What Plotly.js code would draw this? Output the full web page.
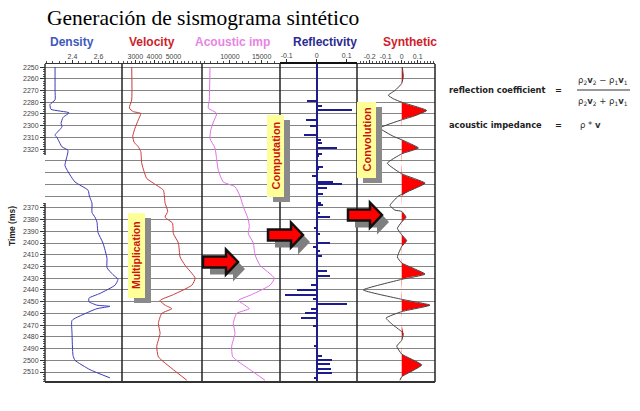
<!DOCTYPE html>
<html><head><meta charset="utf-8">
<script src="https://cdn.plot.ly/plotly-3.0.1.min.js"></script>
<style>html,body{margin:0;padding:0;background:#fff}#chart{width:640px;height:411px}</style>
</head><body><div id="chart"></div>
<script>
// ---- data ----
const densityTime = [2250,2270,2278,2282,2286,2289,2293,2298,2301,2308,2310,2318,2321,2334,2342,2348,2355,2360,2366,2374,2378,2382,2391,2400,2413,2421,2427,2431,2436,2443,2447,2450,2453,2454,2456,2461,2466,2477,2496,2500,2508,2515];
const densityVal  = [2.267,2.267,2.267,2.228,2.236,2.374,2.328,2.313,2.320,2.267,2.282,2.320,2.366,2.343,2.382,2.420,2.520,2.530,2.550,2.550,2.573,2.588,2.596,2.634,2.665,2.665,2.711,2.749,2.726,2.611,2.527,2.527,2.588,2.688,2.588,2.481,2.397,2.397,2.405,2.420,2.535,2.688];

const velocityTime = [2250,2278,2285,2288,2289.5,2295,2302,2309,2314,2318,2322,2332,2339,2345,2349,2355,2366,2373,2378,2383,2392,2400,2412,2419,2430,2436,2444,2449,2453,2456,2460,2468.5,2477,2488,2497,2508,2517];
const velocityVal  = [2810,2810,2684,2894,3284,3157,2984,2863,2931,3157,3284,3336,3457,3599,3946,4472,4562,4700,4560,4950,4998,5261,5351,5614,6140,5966,4998,4299,4562,4914,4388,4209,4299,4125,4209,4998,5703];

const impedanceTime = [2250,2278,2285,2289.5,2297,2304,2311,2319,2329,2338,2348,2352,2360,2369,2380,2386,2392,2400,2410,2419,2430,2436,2444,2449,2453,2456,2460,2468.5,2477,2488,2497,2508,2517];
const impedanceVal  = [6862,6751,6594,7918,7382,6972,6862,7650,7918,8170,8959,10804,11593,12113,12902,13059,12902,13690,13958,14747,17002,16324,13438,11325,12381,13059,11072,10536,10804,10284,10441,13170,15535];

const reflTime = [2279,2283,2287,2295,2300,2308,2312,2315,2319,2324,2326,2335,2337,2343,2348,2350,2353,2358,2366,2368,2374,2378,2387,2392,2400,2403,2407,2411,2424,2428,2436,2440,2444,2448,2452,2456,2460,2464,2471,2488,2496,2500,2503,2507,2511,2515];
const reflVal  = [-0.033,0.017,0.117,-0.036,-0.022,-0.044,0.013,0.017,0.069,0.017,0.009,0.020,0.009,-0.017,0.053,0.083,0.033,0.022,0.013,0.022,0.011,0.044,-0.009,0.011,0.044,-0.014,0.011,0.016,0.033,0.044,-0.020,-0.064,-0.107,-0.014,0.102,-0.018,-0.040,-0.051,-0.014,-0.009,0.019,0.052,0.044,0.047,0.052,-0.009];

const synthTime = [2250,2252.5,2258,2264,2270,2274,2277,2280,2287,2292,2295,2302,2309,2312,2319,2324,2332,2341,2349,2356,2360,2368,2372,2373,2378,2382,2387.5,2393,2398,2403,2412,2417,2426.5,2431,2440,2448,2453,2458.5,2464,2470,2477,2483,2488,2494.7,2504,2514,2517];
const synthVal  = [0.004,0.006,0.010,0,-0.042,-0.084,-0.053,0,0.156,0.073,0,-0.136,-0.053,0,0.104,0,-0.090,0,0.146,0.041,-0.021,-0.073,-0.042,0,0.027,0,-0.027,0,0.031,0,-0.027,0,0.146,0,-0.240,0,0.177,0,-0.098,-0.053,0.010,0,-0.031,0,0.125,0,-0.011];

const gridTimes  = [2250,2260,2270,2280,2290,2300,2310,2320,2330,2340,2350,2360,2370,2380,2390,2400,2410,2420,2430,2440,2450,2460,2470,2480,2490,2500,2510];
const labelTimes = [2250,2260,2270,2280,2290,2300,2310,2320,2370,2380,2390,2400,2410,2420,2430,2440,2450,2460,2470,2480,2490,2500,2510];
const panelTitles = ['Density','Velocity','Acoustic imp','Reflectivity','Synthetic'];

// ---- helpers (pixel -> paper) ----
const L=45, R=435, T=64, B=382;
const px = x => (x-L)/(R-L);
const py = y => (B-y)/(B-T);
const P = (x,y,xa) => ({x:px(x), y:py(y), xref:'paper', yref:'paper', xanchor:xa||'center', yanchor:'middle', showarrow:false});

const tRange = [2518.5, 2247.4];
const tickFont = {family:'Liberation Sans, Arial, sans-serif', size:7, color:'#444'};

const traces = [
  {x:densityVal, y:densityTime, xaxis:'x', yaxis:'y2', mode:'none', hoverinfo:'skip'},
  {x:densityVal, y:densityTime, xaxis:'x', yaxis:'y', mode:'lines', line:{color:'#3b3bbb', width:1, shape:'spline', smoothing:0.5}, hoverinfo:'skip'},
  {x:velocityVal, y:velocityTime, xaxis:'x2', yaxis:'y', mode:'lines', line:{color:'#cc3a3a', width:1, shape:'spline', smoothing:0.5}, hoverinfo:'skip'},
  {x:impedanceVal, y:impedanceTime, xaxis:'x3', yaxis:'y', mode:'lines', line:{color:'#e070e6', width:1, shape:'spline', smoothing:0.5}, hoverinfo:'skip'},
  {type:'bar', orientation:'h', x:reflVal, y:reflTime, xaxis:'x4', yaxis:'y', width:1.7, marker:{color:'#1c1c8c', line:{width:0}}, hoverinfo:'skip'},
  {x:synthVal.map(v=>Math.max(v,0)), y:synthTime, xaxis:'x5', yaxis:'y', mode:'lines', fill:'tozerox', fillcolor:'#ff0000', line:{color:'rgba(0,0,0,0)', width:0, shape:'spline', smoothing:0.4}, hoverinfo:'skip'},
  {x:synthVal, y:synthTime, xaxis:'x5', yaxis:'y', mode:'lines', line:{color:'#444', width:1, shape:'spline', smoothing:0.4}, hoverinfo:'skip'}
];

function topAxis(dom, range, vals, texts, minorDt, extra){
  return Object.assign({domain:dom, range:range, side:'top', anchor:'y', tickmode:'array', tickvals:vals, ticktext:texts,
    ticks:'outside', ticklen:3, tickcolor:'#333', showline:true, linecolor:'#333', linewidth:1, showgrid:false, zeroline:false,
    tickfont:tickFont, tickangle:0, fixedrange:true, ticklabelstandoff:-2,
    minor: minorDt ? {ticks:'outside', dtick:minorDt, ticklen:2, tickcolor:'#555', showgrid:false} : undefined}, extra||{});
}
const d1=px(122), d2=px(202), d3=px(280), d4=px(357);

const minorY = [];
for (let t=2250; t<=2518; t+=2){ if (t<=2324 || t>=2366) minorY.push(t); }

const layout = {
  width:640, height:411, margin:{l:L, r:640-R, t:T, b:411-B}, paper_bgcolor:'#fff', plot_bgcolor:'#fff',
  showlegend:false, bargap:0,
  xaxis: topAxis([0,d1],[2.19,2.78],[2.4,2.6],['2.4','2.6'],0.05),
  xaxis2: topAxis([d1,d2],[2300,6500],[3000,4000,5000],['3000','4000','5000'],200),
  xaxis3: topAxis([d2,d3],[5600,17900],[10000,15000],['10000','15000'],1000),
  xaxis4: topAxis([d3,d4],[-0.1223,0.1343],[-0.1,0,0.1],['-0.1','0','0.1'],null,{zeroline:true, zerolinecolor:'#1c1c8c', zerolinewidth:2, linewidth:2, linecolor:'#111'}),
  xaxis5: topAxis([d4,1],[-0.2794,0.2081],[-0.2,-0.1,0,0.1],['-0.2','-0.1','0','0.1'],0.02),
  yaxis: {domain:[0,1], range:tRange, tickmode:'array', tickvals:gridTimes, showticklabels:false, ticks:'', showgrid:true, gridcolor:'#858585', gridwidth:1, zeroline:false, showline:false, fixedrange:true},
  yaxis2: {overlaying:'y', anchor:'free', position:0, side:'left', range:tRange, tickmode:'array', tickvals:labelTimes, ticktext:labelTimes.map(String),
    ticks:'outside', ticklen:5, tickcolor:'#333', tickfont:tickFont, showgrid:false, zeroline:false, showline:false, fixedrange:true,
    minor:{tickmode:'array', tickvals:minorY, ticks:'outside', ticklen:2, tickcolor:'#555', showgrid:false}},
  shapes: [], annotations: []
};

// frame and dividers
[d1,d2,d3,d4,1].forEach(x=>layout.shapes.push({type:'line', xref:'paper', yref:'paper', x0:x, x1:x, y0:0, y1:1, line:{color:'#222', width:1.5}}));
layout.shapes.push({type:'line', xref:'paper', yref:'paper', x0:0, x1:1, y0:0, y1:0, line:{color:'#333', width:2}});
layout.shapes.push({type:'line', xref:'paper', yref:'y', x0:0, x1:0, y0:2247.4, y1:2325, line:{color:'#333', width:1.5}});
layout.shapes.push({type:'line', xref:'paper', yref:'y', x0:0, x1:0, y0:2366, y1:2518.5, line:{color:'#333', width:1.5}});

// yellow labelled boxes with shadow
function box(x0,y0,x1,y1,label,size){
  layout.shapes.push({type:'rect', layer:'above', xref:'paper', yref:'paper', x0:px(x0+6), x1:px(x1+6), y0:py(y0+5), y1:py(y1+5), fillcolor:'#8a8a8a', line:{width:0}});
  layout.shapes.push({type:'rect', layer:'above', xref:'paper', yref:'paper', x0:px(x0), x1:px(x1), y0:py(y0), y1:py(y1), fillcolor:'#ffff99', line:{width:0}});
  layout.annotations.push(Object.assign(P((x0+x1)/2,(y0+y1)/2), {text:'<b>'+label+'</b>', textangle:-90, font:{family:'Liberation Sans, Arial, sans-serif', size:size, color:'#cc1111'}}));
}
box(128,213,145,298,'Multiplication',10.5);
box(267,115,284,197,'Computation',11);
box(357,102,376,178,'Convolution',11);

// red arrows with shadow
function arrow(a,b,c){
  const pts=(dx,dy)=>[[a,c-5.5],[b-12,c-5.5],[b-12,c-12.5],[b,c],[b-12,c+12.5],[b-12,c+5.5],[a,c+5.5]]
    .map((p,i)=>(i?'L':'M')+px(p[0]+dx).toFixed(4)+','+py(p[1]+dy).toFixed(4)).join(' ')+' Z';
  layout.shapes.push({type:'path', layer:'above', xref:'paper', yref:'paper', path:pts(7,7), fillcolor:'#7f7f7f', line:{width:0}});
  layout.shapes.push({type:'path', layer:'above', xref:'paper', yref:'paper', path:pts(0,0), fillcolor:'#ff0000', line:{color:'#111', width:2.5}});
}
arrow(203,238,262);
arrow(268,303,235);
arrow(348,382,215);

// titles
layout.annotations.push(Object.assign(P(45,18,'left'), {text:'Generación de sismograma sintético', font:{family:'Liberation Serif, Times New Roman, serif', size:21.5, color:'#000'}}));
const titleX=[72,152,232,325,410], titleC=['#4058c0','#cc1f2a','#e884e4','#2b2b92','#d0202a'];
panelTitles.forEach((t,i)=>layout.annotations.push(Object.assign(P(titleX[i],42), {text:'<b>'+t+'</b>', font:{family:'Liberation Sans, Arial, sans-serif', size:12, color:titleC[i]}})));
layout.annotations.push(Object.assign(P(12,226), {text:'<b>Time (ms)</b>', textangle:-90, font:{family:'Liberation Sans, Arial, sans-serif', size:8.5, color:'#222'}}));

// equations
const eqFont = {family:'DejaVu Sans, Verdana, sans-serif', size:8.3, color:'#222'};
const mathFont = {family:'DejaVu Sans, sans-serif', size:8.5, color:'#333'};
layout.annotations.push(Object.assign(P(447,90,'left'), {text:'<b>reflection coefficient</b>', font:eqFont}));
layout.annotations.push(Object.assign(P(558,90), {text:'<b>=</b>', font:eqFont}));
layout.annotations.push(Object.assign(P(603,80), {text:'ρ<sub>2</sub><b>v</b><sub>2</sub> − ρ<sub>1</sub><b>v</b><sub>1</sub>', font:mathFont}));
layout.annotations.push(Object.assign(P(603,101), {text:'ρ<sub>2</sub><b>v</b><sub>2</sub> + ρ<sub>1</sub><b>v</b><sub>1</sub>', font:mathFont}));
layout.shapes.push({type:'line', xref:'paper', yref:'paper', x0:px(577), x1:px(630), y0:py(90), y1:py(90), line:{color:'#333', width:1}});
layout.annotations.push(Object.assign(P(447,125,'left'), {text:'<b>acoustic impedance</b>', font:eqFont}));
layout.annotations.push(Object.assign(P(558,125), {text:'<b>=</b>', font:eqFont}));
layout.annotations.push(Object.assign(P(578,125,'left'), {text:'ρ * <b>v</b>', font:mathFont}));

Plotly.newPlot('chart', traces, layout, {staticPlot:true, displayModeBar:false});
</script></body></html>
